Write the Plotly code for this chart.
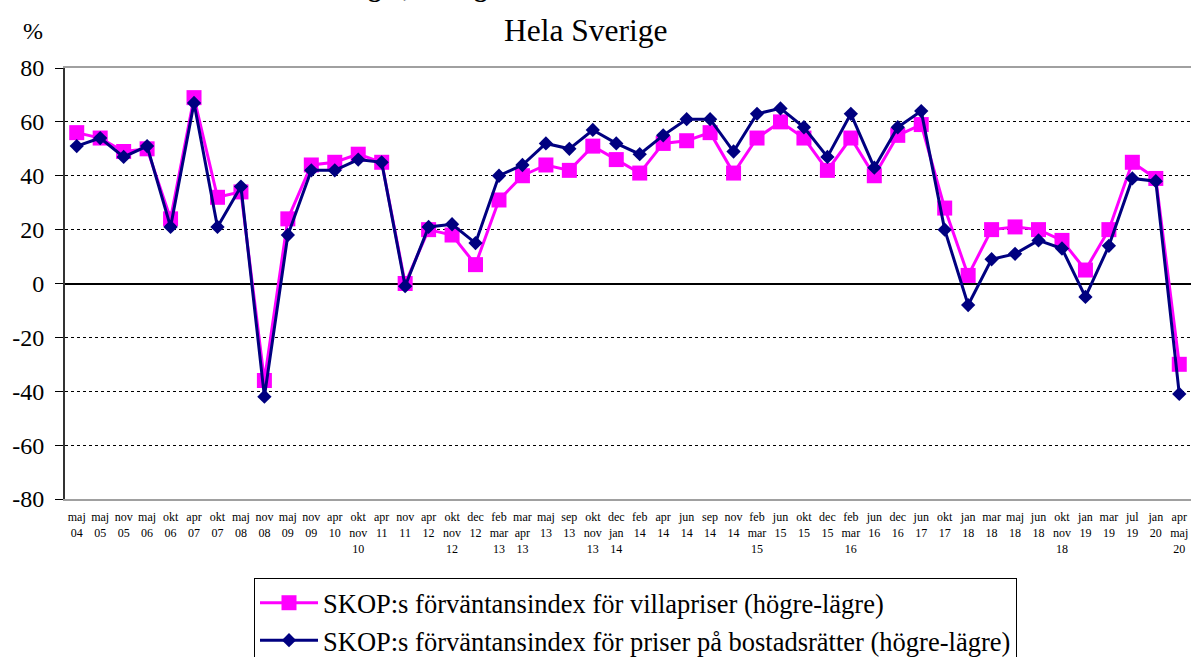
import plotly.graph_objects as go

# ---- data ----
tick_labels = [
    "maj<br>04", "maj<br>05", "nov<br>05", "maj<br>06", "okt<br>06", "apr<br>07",
    "okt<br>07", "maj<br>08", "nov<br>08", "maj<br>09", "nov<br>09", "apr<br>10",
    "okt<br>nov<br>10", "apr<br>11", "nov<br>11", "apr<br>12", "okt<br>nov<br>12",
    "dec<br>12", "feb<br>mar<br>13", "mar<br>apr<br>13", "maj<br>13", "sep<br>13",
    "okt<br>nov<br>13", "dec<br>jan<br>14", "feb<br>14", "apr<br>14", "jun<br>14",
    "sep<br>14", "nov<br>14", "feb<br>mar<br>15", "jun<br>15", "okt<br>15",
    "dec<br>15", "feb<br>mar<br>16", "jun<br>16", "dec<br>16", "jun<br>17",
    "okt<br>17", "jan<br>18", "mar<br>18", "maj<br>18", "jun<br>18",
    "okt<br>nov<br>18", "jan<br>19", "mar<br>19", "jul<br>19", "jan<br>20",
    "apr<br>maj<br>20",
]
villapriser = [
    56, 54, 49, 50, 24, 69, 32, 34, -36, 24, 44, 45, 48, 45, 0, 20, 18, 7,
    31, 40, 44, 42, 51, 46, 41, 52, 53, 56, 41, 54, 60, 54, 42, 54, 40, 55,
    59, 28, 3, 20, 21, 20, 16, 5, 20, 45, 39, -30,
]
bostadsratter = [
    51, 54, 47, 51, 21, 67, 21, 36, -42, 18, 42, 42, 46, 45, -1, 21, 22, 15,
    40, 44, 52, 50, 57, 52, 48, 55, 61, 61, 49, 63, 65, 58, 47, 63, 43, 58,
    64, 20, -8, 9, 11, 16, 13, -5, 14, 39, 38, -41,
]
name_villa = "SKOP:s förväntansindex för villapriser (högre-lägre)"
name_br = "SKOP:s förväntansindex för priser på bostadsrätter (högre-lägre)"
y_ticks = [-80, -60, -40, -20, 0, 20, 40, 60, 80]
y_tick_text = ["-80", "-60", "-40", "-20", "0", "20", "40", "60", "80"]

x = list(range(len(tick_labels)))
boundaries = [i + 0.5 for i in x[:-1]]

FONT = "Liberation Serif"
W, H = 1192, 657
ML, MR, MT, MB = 65, 1, 68, 158
PW, PH = W - ML - MR, H - MT - MB


def px_x(p):
    return (p - ML) / PW


def px_y(p):
    return (H - MB - p) / PH


fig = go.Figure()
fig.add_trace(go.Scatter(
    x=x, y=villapriser, name=name_villa, mode="lines+markers",
    line=dict(color="#FF00FF", width=3),
    marker=dict(symbol="square", size=15, color="#FF00FF"),
    legendgroup="a",
))
fig.add_trace(go.Scatter(
    x=x, y=bostadsratter, name=name_br, mode="lines+markers",
    line=dict(color="#000080", width=3),
    marker=dict(symbol="diamond", size=11, color="#000080"),
    legendgroup="b",
))

fig.update_layout(
    width=W, height=H,
    margin=dict(l=ML, r=MR, t=MT, b=MB, autoexpand=False),
    paper_bgcolor="white", plot_bgcolor="white",
    font=dict(family=FONT, color="black"),
    showlegend=True,
    legend=dict(
        x=px_x(254), y=px_y(578), xanchor="left", yanchor="top",
        bordercolor="black", borderwidth=1, bgcolor="white",
        font=dict(family=FONT, size=26.5, color="black"),
        tracegroupgap=0, itemwidth=58,
    ),
    xaxis=dict(
        range=[-0.5, len(x) - 0.5], tickmode="array", tickvals=x, ticktext=tick_labels,
        tickfont=dict(family=FONT, size=12, color="black"),
        ticks="", ticklabelstandoff=6,
        showgrid=False, zeroline=False,
        showline=True, linecolor="#a0a0a0", linewidth=2, mirror=True,
    ),
    xaxis2=dict(
        range=[-0.5, len(x) - 0.5], overlaying="x", anchor="free", position=0.5,
        tickmode="array", tickvals=boundaries, ticks="outside", ticklen=5,
        tickcolor="black", tickwidth=1, showticklabels=False,
        showgrid=False, zeroline=False, showline=False,
    ),
    yaxis=dict(
        range=[-80, 80], tickmode="array", tickvals=y_ticks, ticktext=y_tick_text,
        tickfont=dict(family=FONT, size=24, color="black"),
        ticks="outside", ticklen=8, tickcolor="black", ticklabelstandoff=6,
        showgrid=True, gridcolor="black", gridwidth=1, griddash="dot",
        zeroline=True, zerolinecolor="black", zerolinewidth=1.5,
        showline=True, linecolor="#333333", linewidth=2,
    ),
    yaxis2=dict(
        range=[-80, 80], overlaying="y", side="right", anchor="x",
        showticklabels=False, ticks="", showgrid=False, zeroline=False,
        showline=True, linecolor="#a0a0a0", linewidth=2,
    ),
    annotations=[
        dict(text="<b>Prisförväntningar, Sverige</b>",
             xref="paper", yref="paper", x=px_x(203), y=px_y(-12),
             xanchor="left", yanchor="middle", showarrow=False,
             font=dict(family=FONT, size=26, color="black")),
        dict(text="Hela Sverige", xref="paper", yref="paper",
             x=px_x(586), y=px_y(31), xanchor="center", yanchor="middle",
             showarrow=False, font=dict(family=FONT, size=31.5, color="black")),
        dict(text="%", xref="paper", yref="paper",
             x=px_x(33), y=px_y(31), xanchor="center", yanchor="middle",
             showarrow=False, font=dict(family=FONT, size=24, color="black")),
    ],
)

fig.write_html(
    "out.html",
    config={"displayModeBar": False},
    post_script="document.body.style.margin='0';document.body.style.padding='0';",
)
